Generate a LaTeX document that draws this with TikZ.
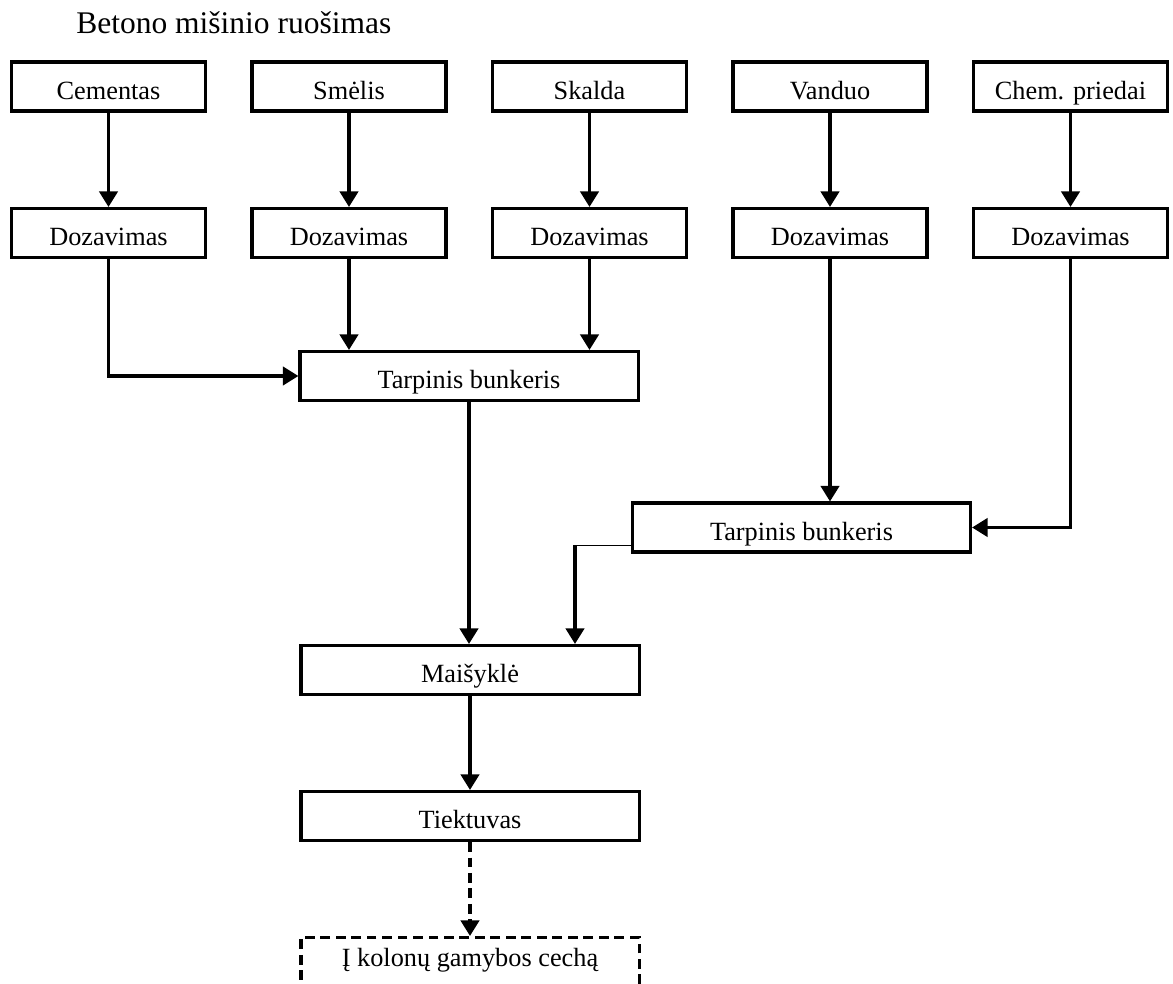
\documentclass[tikz,border=0pt]{standalone}
\usepackage{fontspec}
\setmainfont{Liberation Serif}
\usetikzlibrary{arrows.meta}

\begin{document}
\begin{tikzpicture}[x=0.025cm,y=-0.025cm,
    box/.style={shape=rectangle,draw=black,line width=2.2pt,minimum width=4.85cm,minimum height=1.225cm,inner sep=0pt,text height=17.8pt,text depth=0pt,font=\fontsize{18.7}{22}\selectfont},
    wide/.style={box,minimum width=8.45cm},
    arr/.style={-{Triangle[width=13pt,length=11pt]},black,line width=2.2pt}]

    \useasboundingbox (0,0) rectangle (1173,984);

    \node[anchor=base west,inner sep=0pt,font=\fontsize{22.4}{26}\selectfont] (title) at (76,34) {Betono mišinio ruošimas};

    \node[box] (cem) at (108.5,86.5) {Cementas};
    \node[box] (sme) at (349,86.5) {Smėlis};
    \node[box] (ska) at (589.5,86.5) {Skalda};
    \node[box] (van) at (830,86.5) {Vanduo};
    \node[box] (che) at (1070.5,86.5) {Chem. priedai};

    \node[box] (doz1) at (108.5,233) {Dozavimas};
    \node[box] (doz2) at (349,233) {Dozavimas};
    \node[box] (doz3) at (589.5,233) {Dozavimas};
    \node[box] (doz4) at (830,233) {Dozavimas};
    \node[box] (doz5) at (1070.5,233) {Dozavimas};

    \node[wide] (tarp1) at (469,376) {Tarpinis bunkeris};
    \node[wide] (tarp2) at (801.5,527.5) {Tarpinis bunkeris};
    \node[wide] (mix) at (470,670) {Maišyklė};
    \node[wide] (tiek) at (470,816) {Tiektuvas};
    \node[wide,text height=7pt,dash pattern=on 7pt off 4pt] (cech) at (470,962) {Į kolonų gamybos cechą};

    \coordinate (k) at (575,545);

   \draw[arr]   (cem) -- (doz1);
   \draw[arr]   (sme) -- (doz2);
   \draw[arr]   (ska) -- (doz3);
   \draw[arr]   (van) -- (doz4);
   \draw[arr]   (che) -- (doz5);

   \draw[arr]   (doz1.south) |- (tarp1.west);
   \draw[arr]   (doz2.south) -- (doz2.south |- tarp1.north);
   \draw[arr]   (doz3.south) -- (doz3.south |- tarp1.north);
   \draw[arr]   (doz4.south) -- (doz4.south |- tarp2.north);
   \draw[arr]   (doz5.south) |- (tarp2.east);

   \draw[-,black,line width=0.7pt]   (tarp2.west |- k) -- (k);
   \draw[arr]   (k) -- (k |- mix.north);
   \draw[arr]   (tarp1.south) -- (tarp1.south |- mix.north);
   \draw[arr]   (mix) -- (tiek);
   \draw[arr,dash pattern=on 7pt off 4pt]   (tiek) -- (cech);
\end{tikzpicture}
\end{document}
